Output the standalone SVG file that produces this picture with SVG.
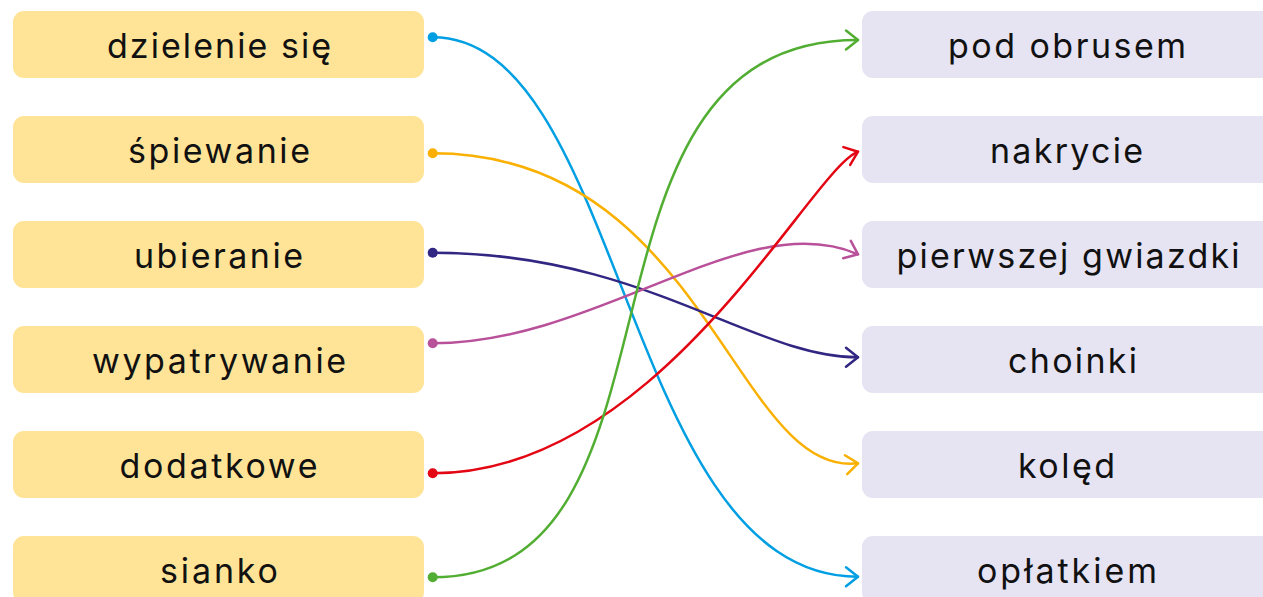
<svg xmlns="http://www.w3.org/2000/svg" width="1263" height="597" viewBox="0 0 1263 597">
<style>
.l rect{fill:#ffe497}
.r rect{fill:#e6e3f3}
text{font-family:Inter,"Noto Sans",sans-serif;font-size:34px;font-weight:400;fill:#111;text-anchor:middle}
.c path{fill:none;stroke-width:2.5;stroke-linecap:round}
</style>
<defs>
<marker id="mb" markerUnits="userSpaceOnUse" viewBox="-16 -12 20 24" refX="0" refY="0" markerWidth="20" markerHeight="24" orient="auto"><path d="M-12,-9.5 L0,0 L-12,9.5" fill="none" stroke="#009fe3" stroke-width="2.5" stroke-linecap="round" stroke-linejoin="round"/></marker>
<marker id="mo" markerUnits="userSpaceOnUse" viewBox="-16 -12 20 24" refX="0" refY="0" markerWidth="20" markerHeight="24" orient="auto"><path d="M-12,-9.5 L0,0 L-12,9.5" fill="none" stroke="#f9b000" stroke-width="2.5" stroke-linecap="round" stroke-linejoin="round"/></marker>
<marker id="mn" markerUnits="userSpaceOnUse" viewBox="-16 -12 20 24" refX="0" refY="0" markerWidth="20" markerHeight="24" orient="auto"><path d="M-12,-9.5 L0,0 L-12,9.5" fill="none" stroke="#312783" stroke-width="2.5" stroke-linecap="round" stroke-linejoin="round"/></marker>
<marker id="mp" markerUnits="userSpaceOnUse" viewBox="-16 -12 20 24" refX="0" refY="0" markerWidth="20" markerHeight="24" orient="auto"><path d="M-12,-9.5 L0,0 L-12,9.5" fill="none" stroke="#b9509a" stroke-width="2.5" stroke-linecap="round" stroke-linejoin="round"/></marker>
<marker id="mr" markerUnits="userSpaceOnUse" viewBox="-16 -12 20 24" refX="0" refY="0" markerWidth="20" markerHeight="24" orient="auto"><path d="M-12,-9.5 L0,0 L-12,9.5" fill="none" stroke="#e30613" stroke-width="2.5" stroke-linecap="round" stroke-linejoin="round"/></marker>
<marker id="mg" markerUnits="userSpaceOnUse" viewBox="-16 -12 20 24" refX="0" refY="0" markerWidth="20" markerHeight="24" orient="auto"><path d="M-12,-9.5 L0,0 L-12,9.5" fill="none" stroke="#52ae32" stroke-width="2.5" stroke-linecap="round" stroke-linejoin="round"/></marker>
</defs>
<g id="l1" class="l"><rect x="13" y="11" width="411" height="67" rx="11"/><text x="219" y="58" textLength="224" lengthAdjust="spacing">dzielenie się</text></g>
<g id="l2" class="l"><rect x="13" y="116" width="411" height="67" rx="11"/><text x="219" y="163" textLength="182" lengthAdjust="spacing">śpiewanie</text></g>
<g id="l3" class="l"><rect x="13" y="221" width="411" height="67" rx="11"/><text x="218.5" y="268" textLength="169" lengthAdjust="spacing">ubieranie</text></g>
<g id="l4" class="l"><rect x="13" y="326" width="411" height="67" rx="11"/><text x="219" y="373" textLength="254" lengthAdjust="spacing">wypatrywanie</text></g>
<g id="l5" class="l"><rect x="13" y="431" width="411" height="67" rx="11"/><text x="218.5" y="478" textLength="198" lengthAdjust="spacing">dodatkowe</text></g>
<g id="l6" class="l"><rect x="13" y="536" width="411" height="67" rx="11"/><text x="219" y="583" textLength="118" lengthAdjust="spacing">sianko</text></g>
<g id="r1" class="r"><rect x="862" y="11" width="411" height="67" rx="11"/><text x="1067" y="58" textLength="238" lengthAdjust="spacing">pod obrusem</text></g>
<g id="r2" class="r"><rect x="862" y="116" width="411" height="67" rx="11"/><text x="1066.5" y="163" textLength="153" lengthAdjust="spacing">nakrycie</text></g>
<g id="r3" class="r"><rect x="862" y="221" width="411" height="67" rx="11"/><text x="1068" y="268" textLength="343" lengthAdjust="spacing">pierwszej gwiazdki</text></g>
<g id="r4" class="r"><rect x="862" y="326" width="411" height="67" rx="11"/><text x="1072.5" y="373" textLength="129" lengthAdjust="spacing">choinki</text></g>
<g id="r5" class="r"><rect x="862" y="431" width="411" height="67" rx="11"/><text x="1066.5" y="478" textLength="97" lengthAdjust="spacing">kolęd</text></g>
<g id="r6" class="r"><rect x="862" y="536" width="411" height="67" rx="11"/><text x="1067" y="583" textLength="180" lengthAdjust="spacing">opłatkiem</text></g>
<g id="connectors" class="c">
<path d="M432.7,37.3 C624,37.3 624,576.7 858,576.7" stroke="#009fe3" marker-end="url(#mb)"/>
<path d="M432.7,153.3 C705,153.3 735,478 858,463.3" stroke="#f9b000" marker-end="url(#mo)"/>
<path d="M432.7,252.7 C643,252.7 753,357.3 858,357.3" stroke="#312783" marker-end="url(#mn)"/>
<path d="M432.7,343.3 C600,343.3 745,205 858,254.3" stroke="#b9509a" marker-end="url(#mp)"/>
<path d="M432.7,473.3 C660,473.3 810,170 858,151.7" stroke="#e30613" marker-end="url(#mr)"/>
<path d="M432.7,577.3 C706,577.3 550,40 858,40" stroke="#52ae32" marker-end="url(#mg)"/>
<circle cx="432.7" cy="37.3" r="5" fill="#009fe3"/>
<circle cx="432.7" cy="153.3" r="5" fill="#f9b000"/>
<circle cx="432.7" cy="252.7" r="5" fill="#312783"/>
<circle cx="432.7" cy="343.3" r="5" fill="#b9509a"/>
<circle cx="432.7" cy="473.3" r="5" fill="#e30613"/>
<circle cx="432.7" cy="577.3" r="5" fill="#52ae32"/>
</g>
</svg>
